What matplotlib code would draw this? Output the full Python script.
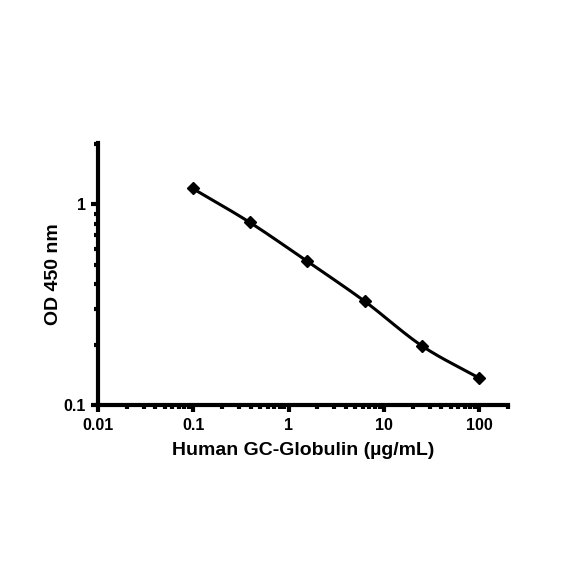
import numpy as np
import matplotlib
matplotlib.use("Agg")
import matplotlib.pyplot as plt
from matplotlib.ticker import LogLocator, FixedLocator, FixedFormatter, NullFormatter

conc = [0.098, 0.39, 1.56, 6.25, 25, 100]
od = [1.20, 0.813, 0.52, 0.329, 0.197, 0.136]
xticks = [0.01, 0.1, 1, 10, 100]
xticklabels = ["0.01", "0.1", "1", "10", "100"]
yticks = [0.1, 1]
yticklabels = ["0.1", "1"]

plt.rcParams['font.family'] = ['Liberation Sans', 'DejaVu Sans']

fig = plt.figure(figsize=(5.84, 5.84), dpi=100)
ax = fig.add_axes([0.168, 0.3065, 0.702, 0.4485])

# smooth curve (Catmull-Rom in log-log space)
lx = np.log10(conc); ly = np.log10(od)
px = np.concatenate([[2*lx[0]-lx[1]], lx, [2*lx[-1]-lx[-2]]])
py = np.concatenate([[2*ly[0]-ly[1]], ly, [2*ly[-1]-ly[-2]]])
sx, sy = [], []
t = np.linspace(0, 1, 30)
for i in range(1, len(px)-2):
    for arr, out in ((px, sx), (py, sy)):
        p0, p1, p2, p3 = arr[i-1], arr[i], arr[i+1], arr[i+2]
        out.extend(0.5*((2*p1) + (-p0+p2)*t + (2*p0-5*p1+4*p2-p3)*t**2 + (-p0+3*p1-3*p2+p3)*t**3))
ax.plot(10**np.array(sx), 10**np.array(sy), color='black', lw=2.2)
ax.plot(conc, od, linestyle='none', marker='D', color='black', markersize=6)

ax.set_xscale('log'); ax.set_yscale('log')
ax.set_xlim(0.01, 200)
ax.set_ylim(0.1, 2.02)
ax.xaxis.set_major_locator(FixedLocator(xticks))
ax.xaxis.set_major_formatter(FixedFormatter(xticklabels))
ax.yaxis.set_major_locator(FixedLocator(yticks))
ax.yaxis.set_major_formatter(FixedFormatter(yticklabels))
ax.xaxis.set_minor_locator(LogLocator(base=10, subs=np.arange(2, 10)))
ax.yaxis.set_minor_locator(LogLocator(base=10, subs=np.arange(2, 10)))
ax.xaxis.set_minor_formatter(NullFormatter())
ax.yaxis.set_minor_formatter(NullFormatter())

for s in ['top', 'right']:
    ax.spines[s].set_visible(False)
for s in ['left', 'bottom']:
    ax.spines[s].set_linewidth(3)
ax.tick_params(which='major', direction='out', length=5, width=3, labelsize=11.5, pad=4)
ax.tick_params(which='minor', direction='out', length=3, width=3)
for lab in ax.get_xticklabels() + ax.get_yticklabels():
    lab.set_fontweight('bold')

ax.set_xlabel('Human GC-Globulin (µg/mL)', fontsize=14, fontweight='bold', labelpad=7)
ax.set_ylabel('OD 450 nm', fontsize=14, fontweight='bold', labelpad=1)

fig.savefig('out.png', dpi=100, facecolor='white')
